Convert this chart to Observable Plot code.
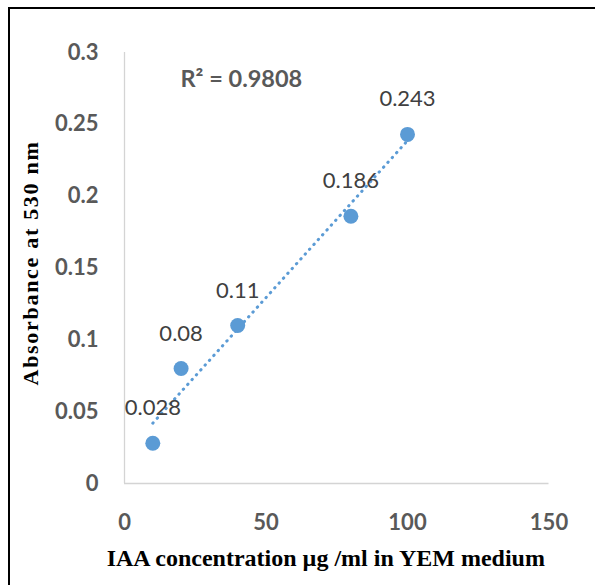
<!DOCTYPE html>
<html>
<head>
<meta charset="utf-8">
<script src="https://cdn.jsdelivr.net/npm/d3@7"></script>
<script src="https://cdn.jsdelivr.net/npm/@observablehq/plot@0.6"></script>
<style>
  html, body { margin: 0; padding: 0; background: #fff; overflow: hidden; }
  #wrap { position: relative; width: 595px; height: 585px; }
  #frame { position: absolute; left: 8px; top: 7px; width: 620px; height: 620px; border: 2.5px solid #000; box-sizing: border-box; pointer-events: none; }
</style>
</head>
<body>
<div id="wrap"><div id="chart"></div><div id="frame"></div></div>
<script>
const xValues = [10, 20, 40, 80, 100];
const yValues = [0.028, 0.08, 0.11, 0.186, 0.243];
const pointLabels = ["0.028", "0.08", "0.11", "0.186", "0.243"];
const xTicks = [0, 50, 100, 150];
const xTickLabels = ["0", "50", "100", "150"];
const yTicks = [0, 0.05, 0.1, 0.15, 0.2, 0.25, 0.3];
const yTickLabels = ["0", "0.05", "0.1", "0.15", "0.2", "0.25", "0.3"];
const r2Label = "R² = 0.9808";
const xTitle = "IAA concentration µg /ml in YEM medium";
const yTitle = "Absorbance at 530 nm";

const data = xValues.map((x, i) => ({x, y: yValues[i], label: pointLabels[i]}));
const blue = "#5b9bd5";
const sans = "Lato, 'Open Sans', sans-serif";
const serif = "'Liberation Serif', 'Times New Roman', serif";

const chart = Plot.plot({
  width: 595,
  height: 585,
  marginLeft: 124,
  marginRight: 46.5,
  marginTop: 52,
  marginBottom: 102,
  style: {background: "#fff", overflow: "visible"},
  x: {domain: [0, 150], axis: null},
  y: {domain: [0, 0.3], axis: null},
  marks: [
    Plot.ruleX([0], {stroke: "#d4d4d4", strokeWidth: 1.3}),
    Plot.ruleY([0], {stroke: "#d4d4d4", strokeWidth: 1.3}),
    Plot.axisX(xTicks, {tickSize: 0, tickPadding: 31, fontSize: 22, fontWeight: "bold", fontFamily: sans, color: "#595959", label: null,
      tickFormat: d => xTickLabels[xTicks.indexOf(d)]}),
    Plot.axisY(yTicks, {tickSize: 0, tickPadding: 26, fontSize: 22, fontWeight: "bold", fontFamily: sans, color: "#595959", label: null,
      tickFormat: d => yTickLabels[yTicks.indexOf(d)]}),
    Plot.linearRegressionY(data, {x: "x", y: "y", ci: 0, stroke: blue, strokeWidth: 3, strokeDasharray: "0.5,6", strokeLinecap: "round"}),
    Plot.dot(data, {x: "x", y: "y", r: 7.5, fill: blue, stroke: null}),
    Plot.text(data, {x: "x", y: "y", text: "label", dy: -35, lineAnchor: "middle", fontSize: 22, fontFamily: sans, fill: "#404040"}),
    Plot.text([r2Label], {frameAnchor: "top-left", textAnchor: "start", lineAnchor: "middle", dx: 56, dy: 27, fontSize: 23.5, fontWeight: "bold", fontFamily: sans, fill: "#595959"}),
    Plot.text([xTitle], {frameAnchor: "bottom", lineAnchor: "middle", dx: -11, dy: 75, fontSize: 24, fontWeight: "bold", fontFamily: serif, fill: "#000"}),
    Plot.text([yTitle], {frameAnchor: "left", textAnchor: "middle", lineAnchor: "middle", rotate: -90, dx: -94, dy: -5, fontSize: 22, fontWeight: "bold", fontFamily: serif, fill: "#000"})
  ]
});
d3.select(chart).selectAll("text").filter(function() { return this.textContent === yTitle; })
  .attr("letter-spacing", "1.7")
  .style("letter-spacing", "1.7px");
document.getElementById("chart").appendChild(chart);
</script>
</body>
</html>
